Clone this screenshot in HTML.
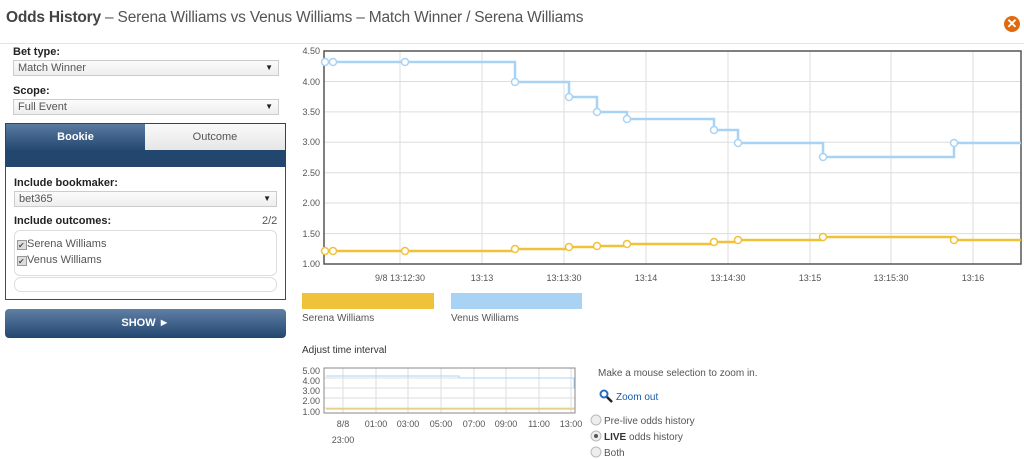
<!DOCTYPE html>
<html><head><meta charset="utf-8"><style>
*{margin:0;padding:0;box-sizing:border-box}
body{width:1024px;height:459px;background:#fff;font-family:"Liberation Sans",sans-serif;color:#444;position:relative;overflow:hidden;font-size:11px}
.a{position:absolute;white-space:nowrap}
.sel{position:absolute;left:13px;width:266px;height:16px;border:1px solid #ccc;background:linear-gradient(#fbfbfb,#eee);font-size:11px;color:#555;padding:1px 4px;line-height:12px}
.sel:after{content:"▼";position:absolute;right:5px;top:1px;font-size:8px;color:#222}
.lbl{font-weight:bold;color:#222;font-size:11px}
</style></head><body>
<div class="a" style="left:6px;top:9px;font-size:15.5px;color:#555;letter-spacing:-0.2px"><b style="color:#444">Odds History</b> – Serena Williams vs Venus Williams – Match Winner / Serena Williams</div>
<div class="a" style="left:1004px;top:16px;width:16px;height:16px;border-radius:50%;background:#e06a10;color:#fff;font-size:13px;font-weight:bold;text-align:center;line-height:16px">✕</div>
<div class="a" style="left:0;top:43px;width:1024px;height:1px;background:#e4e4e4"></div>

<div class="a lbl" style="left:13px;top:46px">Bet type:</div>
<div class="sel" style="top:60px">Match Winner</div>
<div class="a lbl" style="left:13px;top:85px">Scope:</div>
<div class="sel" style="top:99px">Full Event</div>

<div class="a" style="left:5px;top:123px;width:281px;height:177px;border:1px solid #2c4d7a;background:#fff"></div>
<div class="a" style="left:5px;top:123px;width:281px;height:44px;background:#23466f"></div>
<div class="a" style="left:6px;top:124px;width:139px;height:27px;background:linear-gradient(#5a7ba0,#23466f);color:#fff;font-weight:bold;text-align:center;line-height:26px">Bookie</div>
<div class="a" style="left:145px;top:124px;width:140px;height:26px;background:linear-gradient(#fafafa,#e6e6e6);color:#555;text-align:center;line-height:26px">Outcome</div>
<div class="a lbl" style="left:14px;top:177px">Include bookmaker:</div>
<div class="sel" style="top:191px;left:14px;width:263px">bet365</div>
<div class="a lbl" style="left:14px;top:215px">Include outcomes:</div>
<div class="a" style="left:262px;top:215px;color:#555">2/2</div>
<div class="a" style="left:14px;top:230px;width:263px;height:46px;border:1px solid #ddd;border-radius:6px"></div>
<div class="a" style="left:17px;top:238px;color:#555"><span style="display:inline-block;width:10px;height:10px;border:1px solid #999;background:#ddd;font-size:8px;line-height:9px;vertical-align:-1px">✔</span>Serena Williams</div>
<div class="a" style="left:17px;top:254px;color:#555"><span style="display:inline-block;width:10px;height:10px;border:1px solid #999;background:#ddd;font-size:8px;line-height:9px;vertical-align:-1px">✔</span>Venus Williams</div>
<div class="a" style="left:14px;top:277px;width:263px;height:15px;border:1px solid #ddd;border-radius:7px"></div>
<div class="a" style="left:5px;top:309px;width:281px;height:29px;border-radius:4px;background:linear-gradient(#5f7fa5,#23466f);color:#fff;font-weight:bold;text-align:center;line-height:28px">SHOW ►</div>

<svg class="a" style="left:0;top:0" width="1024" height="459" font-family="Liberation Sans" font-size="9" fill="#555">
<g stroke="#ddd" stroke-width="1">
<line x1="324" x2="1021" y1="81.5" y2="81.5"/><line x1="324" x2="1021" y1="111.9" y2="111.9"/><line x1="324" x2="1021" y1="142.3" y2="142.3"/><line x1="324" x2="1021" y1="172.7" y2="172.7"/><line x1="324" x2="1021" y1="203" y2="203"/><line x1="324" x2="1021" y1="233.6" y2="233.6"/>
<line x1="400" x2="400" y1="51" y2="264"/><line x1="482" x2="482" y1="51" y2="264"/><line x1="564" x2="564" y1="51" y2="264"/><line x1="646" x2="646" y1="51" y2="264"/><line x1="728" x2="728" y1="51" y2="264"/><line x1="810" x2="810" y1="51" y2="264"/><line x1="891" x2="891" y1="51" y2="264"/><line x1="973" x2="973" y1="51" y2="264"/>
</g>
<rect x="324" y="51" width="697" height="213" fill="none" stroke="#555" stroke-width="1.5"/>
<g text-anchor="end"><text x="320" y="54">4.50</text><text x="320" y="85">4.00</text><text x="320" y="115">3.50</text><text x="320" y="145">3.00</text><text x="320" y="176">2.50</text><text x="320" y="206">2.00</text><text x="320" y="237">1.50</text><text x="320" y="267">1.00</text></g>
<g text-anchor="middle"><text x="400" y="281">9/8 13:12:30</text><text x="482" y="281">13:13</text><text x="564" y="281">13:13:30</text><text x="646" y="281">13:14</text><text x="728" y="281">13:14:30</text><text x="810" y="281">13:15</text><text x="891" y="281">13:15:30</text><text x="973" y="281">13:16</text></g>
<g fill="none" stroke-width="2.5">
<path d="M325,62H329M333,62H515V82H569V97H597V112H627V119H714V130H738V143H823V157H954V143H1021" stroke="#a9d3f5"/>
<path d="M325,251H329M333,251H515V249H569V247H597V246H627V244H714V242H738V240H823V237H954V240H1021" stroke="#f0c23a"/>
</g>
<g fill="#fff" stroke="#a9d3f5" stroke-width="1.5"><circle cx="325" cy="62" r="3.5"/><circle cx="333" cy="62" r="3.5"/><circle cx="405" cy="62" r="3.5"/><circle cx="515" cy="82" r="3.5"/><circle cx="569" cy="97" r="3.5"/><circle cx="597" cy="112" r="3.5"/><circle cx="627" cy="119" r="3.5"/><circle cx="714" cy="130" r="3.5"/><circle cx="738" cy="143" r="3.5"/><circle cx="823" cy="157" r="3.5"/><circle cx="954" cy="143" r="3.5"/></g>
<g fill="#fff" stroke="#f0c23a" stroke-width="1.5"><circle cx="325" cy="251" r="3.5"/><circle cx="333" cy="251" r="3.5"/><circle cx="405" cy="251" r="3.5"/><circle cx="515" cy="249" r="3.5"/><circle cx="569" cy="247" r="3.5"/><circle cx="597" cy="246" r="3.5"/><circle cx="627" cy="244" r="3.5"/><circle cx="714" cy="242" r="3.5"/><circle cx="738" cy="240" r="3.5"/><circle cx="823" cy="237" r="3.5"/><circle cx="954" cy="240" r="3.5"/></g>
<rect x="302" y="293" width="132" height="16" fill="#f0c23a"/><rect x="451" y="293" width="131" height="16" fill="#a9d3f5"/>
<text x="302" y="321" font-size="10">Serena Williams</text><text x="451" y="321" font-size="10">Venus Williams</text>
<text x="302" y="353" font-size="10" fill="#333">Adjust time interval</text>
<g stroke="#ddd"><line x1="324" x2="575" y1="378" y2="378"/><line x1="324" x2="575" y1="388" y2="388"/><line x1="324" x2="575" y1="398" y2="398"/><line x1="324" x2="575" y1="408" y2="408"/>
<line x1="343" x2="343" y1="368" y2="413"/><line x1="376" x2="376" y1="368" y2="413"/><line x1="408" x2="408" y1="368" y2="413"/><line x1="441" x2="441" y1="368" y2="413"/><line x1="474" x2="474" y1="368" y2="413"/><line x1="506" x2="506" y1="368" y2="413"/><line x1="539" x2="539" y1="368" y2="413"/><line x1="571" x2="571" y1="368" y2="413"/></g>
<rect x="324" y="368" width="251" height="45" fill="none" stroke="#888" stroke-width="1"/>
<path d="M326,376H459V378H574V388" fill="none" stroke="#a9d3f5"/><path d="M326,409H574" stroke="#f0c23a"/>
<g text-anchor="end"><text x="320" y="374">5.00</text><text x="320" y="384">4.00</text><text x="320" y="394">3.00</text><text x="320" y="404">2.00</text><text x="320" y="415">1.00</text></g>
<g text-anchor="middle"><text x="343" y="427">8/8</text><text x="343" y="443">23:00</text><text x="376" y="427">01:00</text><text x="408" y="427">03:00</text><text x="441" y="427">05:00</text><text x="474" y="427">07:00</text><text x="506" y="427">09:00</text><text x="539" y="427">11:00</text><text x="571" y="427">13:00</text></g>
<text x="598" y="376" font-size="10">Make a mouse selection to zoom in.</text>
<circle cx="604" cy="394" r="3.5" fill="none" stroke="#2a6cc0" stroke-width="2"/><line x1="607" y1="397" x2="612" y2="402" stroke="#222" stroke-width="2.5"/>
<text x="616" y="400" font-size="10" fill="#1a5aa8">Zoom out</text>
<g fill="#eee" stroke="#bbb"><circle cx="596" cy="420" r="5"/><circle cx="596" cy="436" r="5"/><circle cx="596" cy="452" r="5"/></g>
<circle cx="596" cy="436" r="2" fill="#555"/>
<text x="604" y="424" font-size="10">Pre-live odds history</text>
<text x="604" y="440" font-size="10"><tspan font-weight="bold" fill="#333">LIVE</tspan> odds history</text>
<text x="604" y="456" font-size="10">Both</text>
</svg>
</body></html>
